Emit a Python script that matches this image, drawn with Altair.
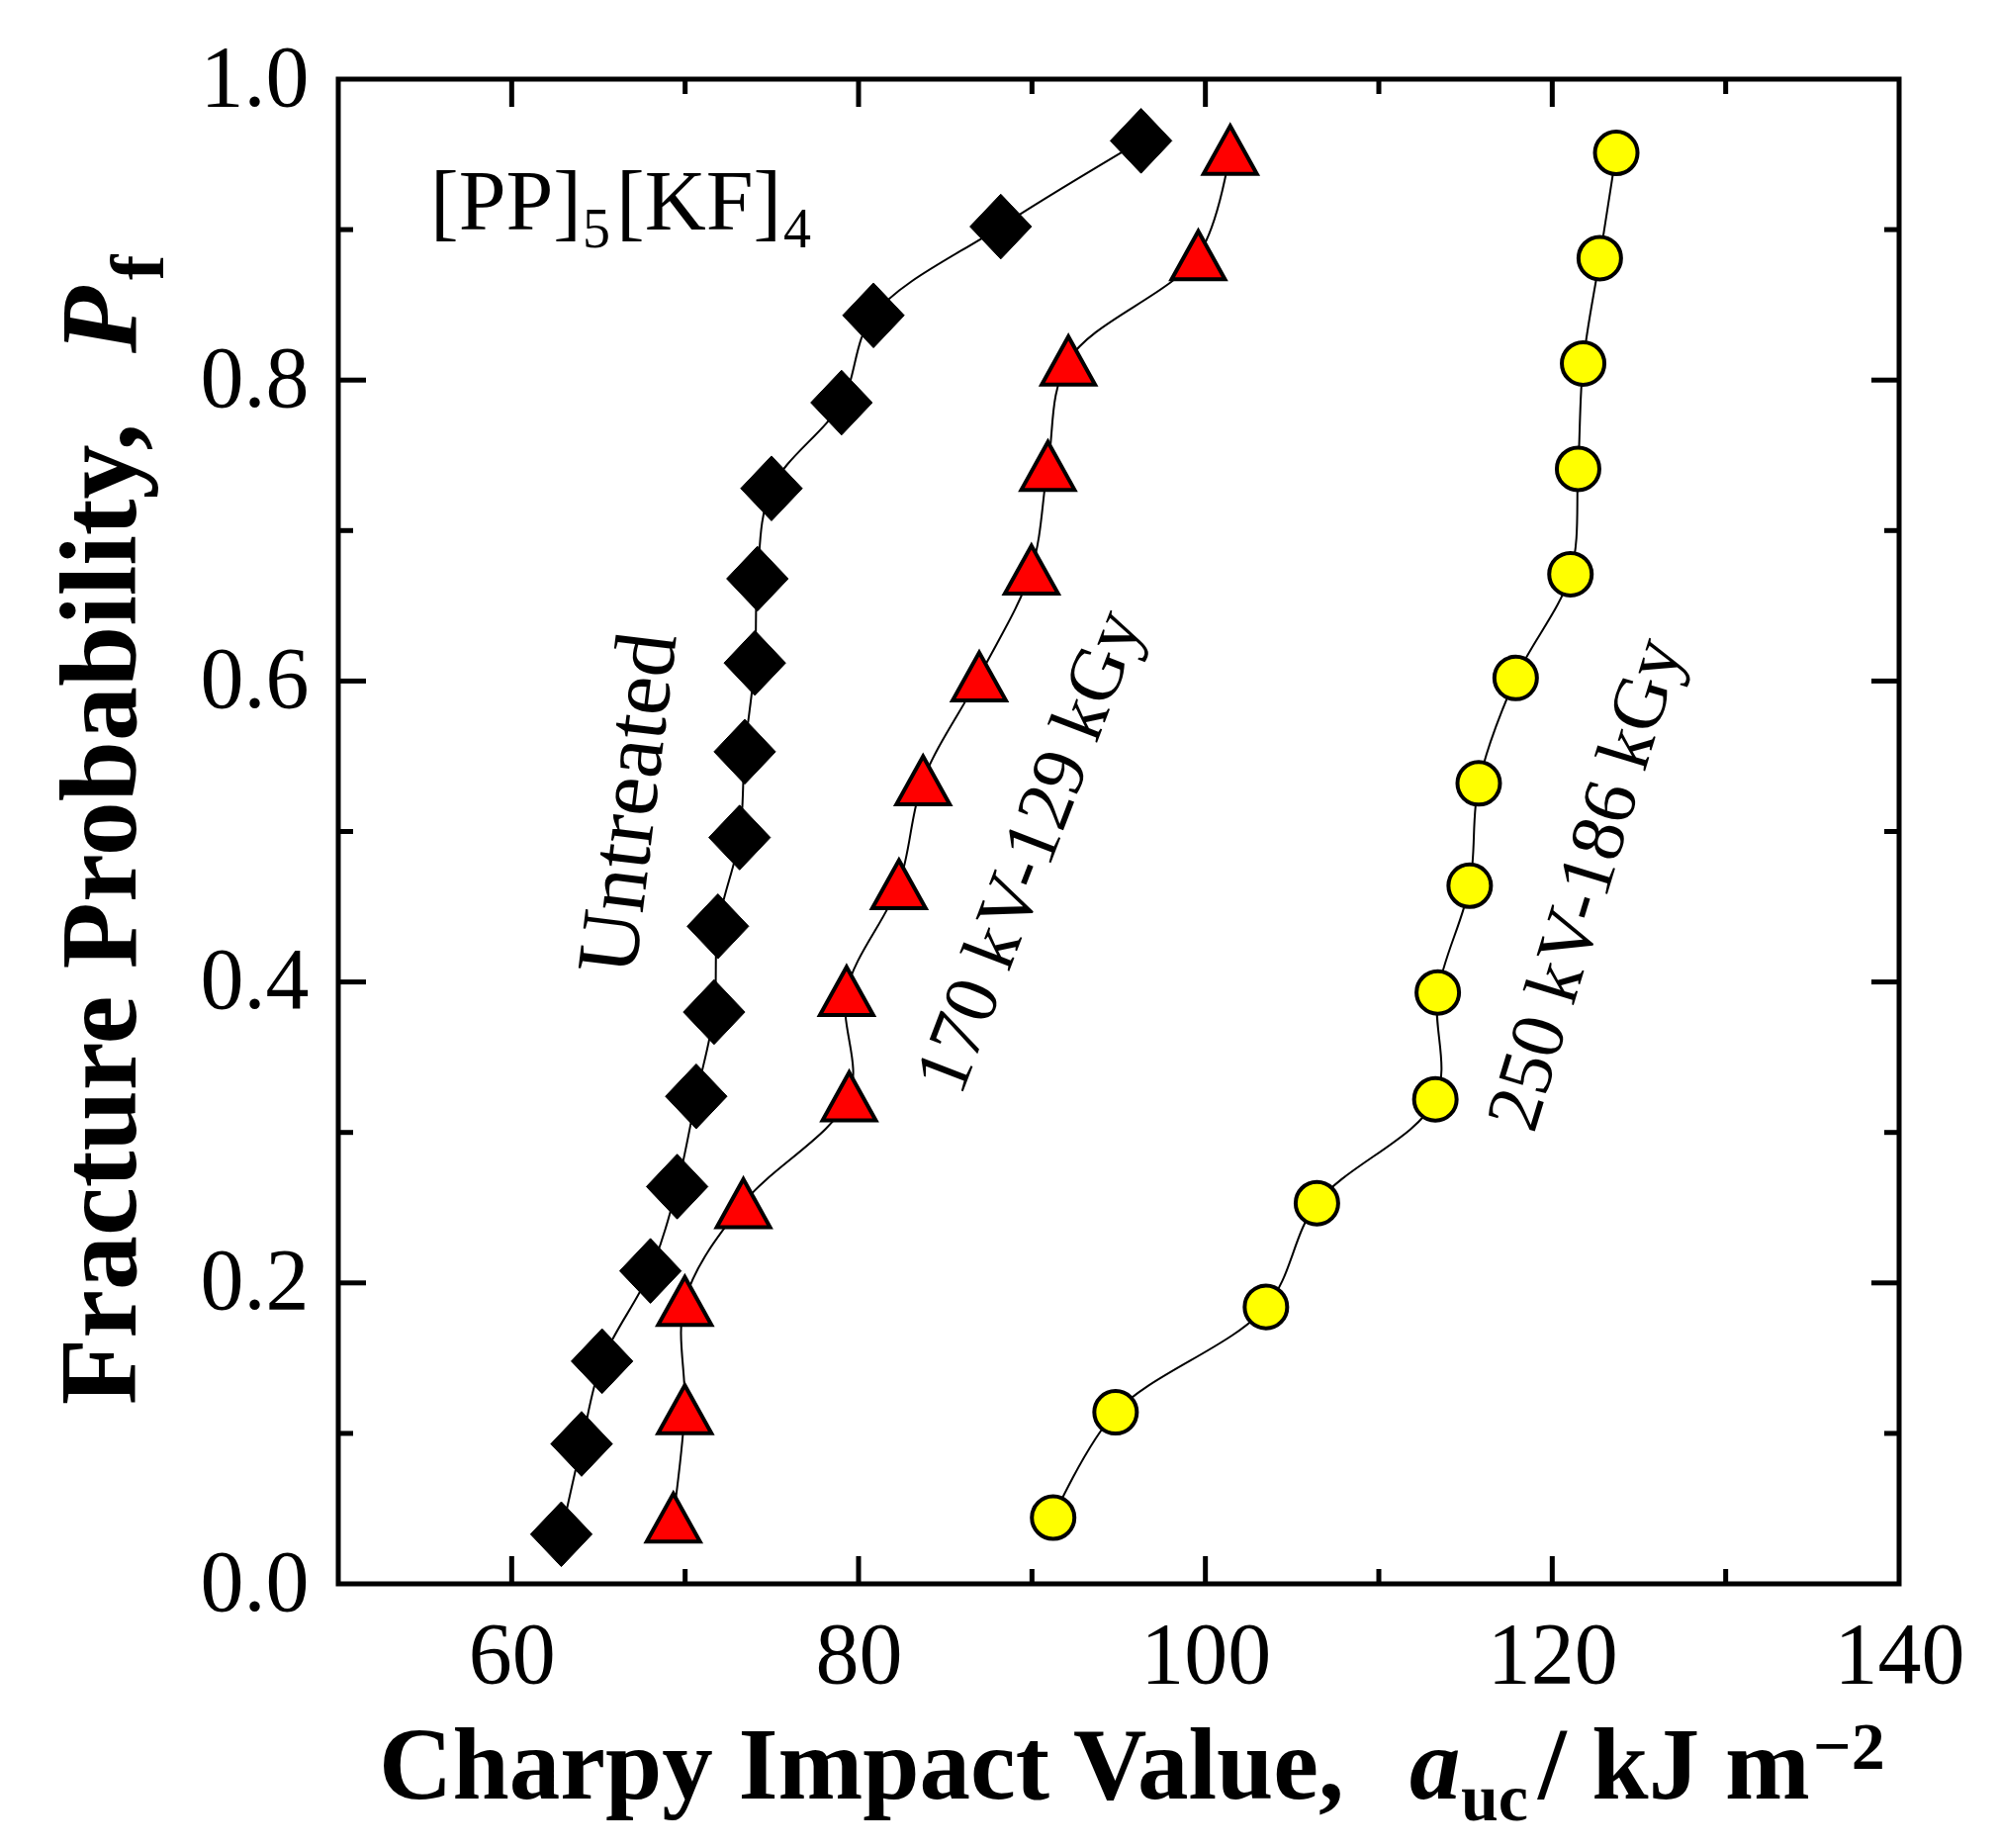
import altair as alt
import pandas as pd

# ---------------- data ----------------
untreated_x = [62.86, 64.03, 65.21, 68.00, 69.54, 70.64, 71.67, 71.89, 73.14,
               73.44, 74.02, 74.17, 74.98, 79.02, 80.86, 88.20, 96.29]
untreated_p = [0.033, 0.093, 0.148, 0.208, 0.264, 0.324, 0.380, 0.437, 0.496,
               0.553, 0.612, 0.668, 0.728, 0.785, 0.843, 0.902, 0.959]

kv170_x = [69.32, 69.98, 69.98, 73.36, 79.46, 79.31, 82.33, 83.72, 86.96,
           89.97, 90.92, 92.10, 99.59, 101.43]
kv170_p = [0.044, 0.116, 0.188, 0.253, 0.324, 0.394, 0.465, 0.534, 0.603,
           0.674, 0.743, 0.813, 0.883, 0.953]

kv250_x = [91.22, 94.82, 103.49, 106.43, 113.26, 113.40, 115.24, 115.76, 117.89,
           121.05, 121.49, 121.78, 122.74, 123.69]
kv250_p = [0.044, 0.114, 0.184, 0.253, 0.322, 0.393, 0.464, 0.532, 0.602,
           0.671, 0.741, 0.811, 0.881, 0.951]

series_names = ["Untreated", "170 kV-129 kGy", "250 kV-186 kGy"]

x_label_values = [60, 80, 100, 120, 140]
y_label_values = [0.0, 0.2, 0.4, 0.6, 0.8, 1.0]
x_major = [60, 80, 100, 120]
x_minor = [70, 90, 110, 130]
y_major = [0.2, 0.4, 0.6, 0.8]
y_minor = [0.1, 0.3, 0.5, 0.7, 0.9]

# ---------------- layout ----------------
W, H = 1578, 1521
MAJ, MIN = 28, 15
FONT = "Liberation Serif"

xscale = alt.Scale(domain=[50, 140], nice=False, zero=False)
yscale = alt.Scale(domain=[0, 1], nice=False, zero=False)

x_axis = alt.Axis(values=x_label_values, labelFont=FONT, labelFontSize=88,
                  labelColor="black", labelPadding=29, ticks=False, domain=False,
                  grid=False, title=None, labelFlush=False, labelOverlap=False)
y_axis = alt.Axis(values=y_label_values, format=".1f", labelFont=FONT,
                  labelFontSize=88, labelColor="black", labelPadding=30,
                  ticks=False, domain=False, grid=False, title=None,
                  labelFlush=False, labelOverlap=False)


def X(field):
    return alt.X(field, scale=xscale, axis=x_axis)


def Y(field):
    return alt.Y(field, scale=yscale, axis=y_axis)


def frame(xs, ps, name):
    return pd.DataFrame({"x": xs, "p": ps, "series": name, "i": list(range(len(xs)))})


df_u = frame(untreated_x, untreated_p, series_names[0])
df_a = frame(kv170_x, kv170_p, series_names[1])
df_b = frame(kv250_x, kv250_p, series_names[2])
df_all = pd.concat([df_u, df_a, df_b], ignore_index=True)

lines = alt.Chart(df_all).mark_line(
    interpolate="catmull-rom", color="black", strokeWidth=2
).encode(
    x=X("x:Q"),
    y=Y("p:Q"),
    detail="series:N",
    order="i:Q",
)

diamond_path = "M-0.95,0L0,-1L0.95,0L0,1Z"
triangle_path = "M0,-0.9L1,0.9L-1,0.9Z"

pts_u = alt.Chart(df_u).mark_point(
    shape=diamond_path, size=4300, filled=True, fill="black", stroke="black",
    strokeWidth=1, opacity=1
).encode(x=X("x:Q"), y=Y("p:Q"))

pts_a = alt.Chart(df_a).mark_point(
    shape=triangle_path, size=2900, filled=True, fill="#ff0000", stroke="black",
    strokeWidth=4, opacity=1
).encode(x=X("x:Q"), y=Y("p:Q"))

pts_b = alt.Chart(df_b).mark_point(
    shape="circle", size=1850, filled=True, fill="#ffff00", stroke="black",
    strokeWidth=4, opacity=1
).encode(x=X("x:Q"), y=Y("p:Q"))


# ---------------- inward ticks ----------------
def xticks(vals, length):
    d = pd.DataFrame({"t": vals})
    base = alt.Chart(d).mark_rule(color="black", strokeWidth=5)
    return (base.encode(x=X("t:Q"), y=alt.value(H), y2=alt.value(H - length))
            + base.encode(x=X("t:Q"), y=alt.value(0), y2=alt.value(length)))


def yticks(vals, length):
    d = pd.DataFrame({"t": vals})
    base = alt.Chart(d).mark_rule(color="black", strokeWidth=5)
    return (base.encode(y=Y("t:Q"), x=alt.value(0), x2=alt.value(length))
            + base.encode(y=Y("t:Q"), x=alt.value(W), x2=alt.value(W - length)))


ticks = xticks(x_major, MAJ) + xticks(x_minor, MIN) + yticks(y_major, MAJ) + yticks(y_minor, MIN)

# ---------------- texts ----------------
one = pd.DataFrame({"k": [0]})


def txt(s, x, y, size, weight="normal", style="normal", angle=0, align="left",
        baseline="alphabetic"):
    kw = dict(text=s, font=FONT, fontSize=size, fontWeight=weight, fontStyle=style,
              align=align, baseline=baseline, color="black")
    if angle:
        kw["angle"] = angle
    return alt.Chart(one).mark_text(**kw).encode(x=alt.value(x), y=alt.value(y))


texts = [
    # x axis title
    txt("Charpy Impact Value,", 41, 1738, 103, weight="bold"),
    txt("a", 1083, 1738, 103, weight="bold", style="italic"),
    txt("uc", 1135, 1760, 68, weight="bold"),
    txt("/ kJ m", 1213, 1738, 103, weight="bold"),
    txt("\u22122", 1491, 1708, 68, weight="bold"),
    # y axis title
    txt("Fracture Probability,", -205, 1340, 110, weight="bold", angle=270),
    txt("P", -205, 277, 110, weight="bold", style="italic", angle=270),
    txt("f", -177, 203, 76, weight="bold", angle=270),
    # composition label
    txt("[PP]", 93, 152, 86),
    txt("5", 247, 170, 56),
    txt("[KF]", 281, 152, 86),
    txt("4", 450, 170, 56),
    # series labels
    txt(series_names[0], 295, 732, 88, angle=277, align="center", baseline="middle"),
    txt(series_names[1], 700, 781, 77, angle=291, align="center", baseline="middle"),
    txt(series_names[2], 1262, 814, 77, angle=287, align="center", baseline="middle"),
]

chart = alt.layer(lines, ticks, pts_u, pts_a, pts_b, *texts).properties(
    width=W, height=H,
    autosize=alt.AutoSizeParams(type="none"),
    padding={"left": 334, "top": 72, "right": 90, "bottom": 255},
    background="white",
).configure_view(stroke="black", strokeWidth=5)

chart.save("out.html", embed_options={"renderer": "svg", "actions": False})
